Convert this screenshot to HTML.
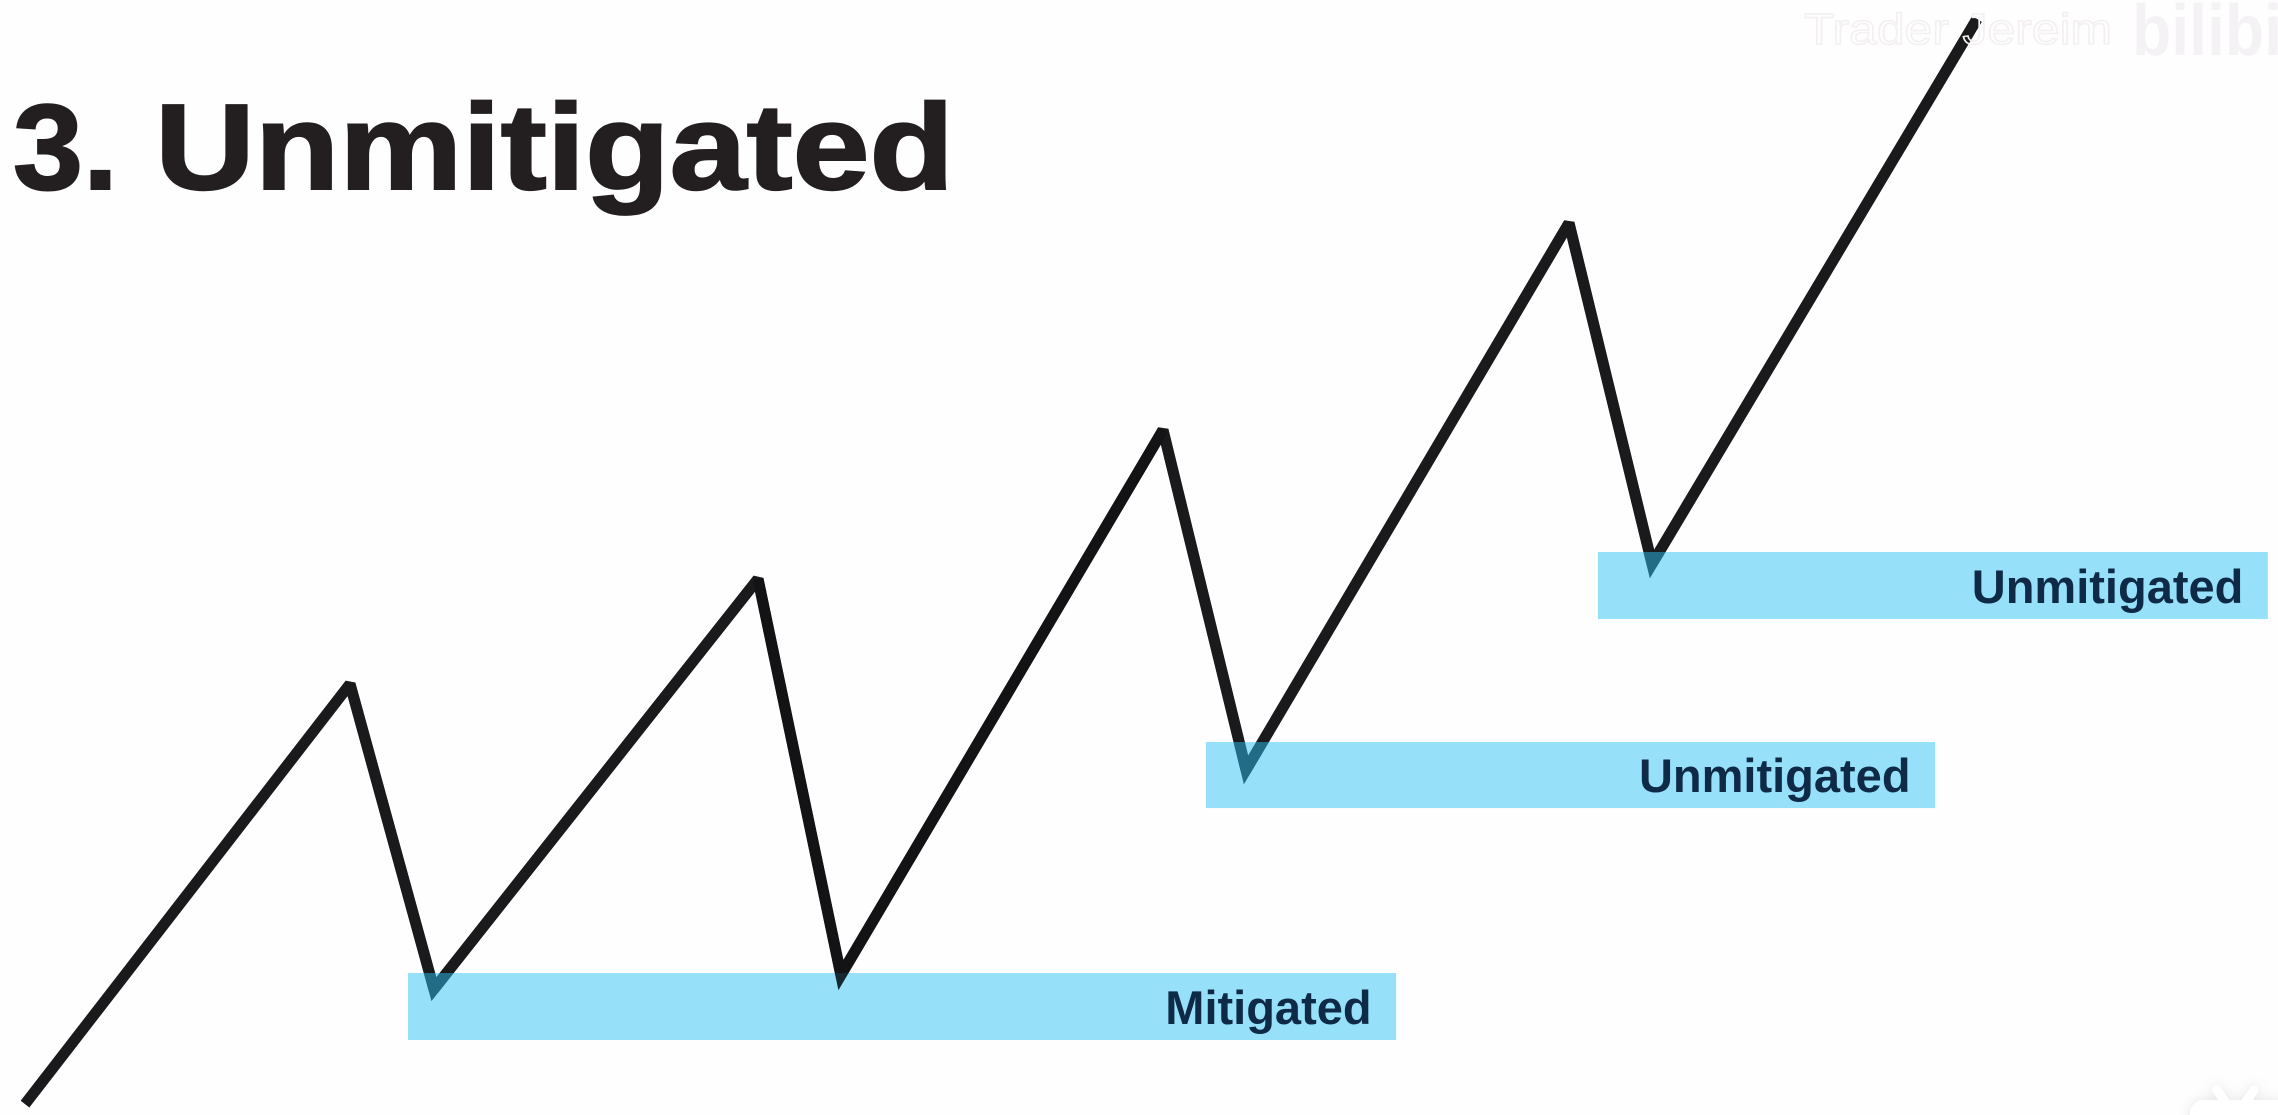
<!DOCTYPE html>
<html lang="en">
<head>
<meta charset="utf-8">
<title>3. Unmitigated</title>
<style>
  html, body { margin: 0; padding: 0; background: #fefefe; width: 2278px; height: 1115px; overflow: hidden; }
  svg { display: block; font-family: "Liberation Sans", Arial, sans-serif; }
</style>
</head>
<body>
<svg id="chart" xmlns="http://www.w3.org/2000/svg" width="2278" height="1115" viewBox="0 0 2278 1115">
  <defs>
    <filter id="soft-shadow" x="-30%" y="-30%" width="160%" height="160%">
      <feDropShadow dx="0" dy="0" stdDeviation="6" flood-color="#000" flood-opacity="0.1"/>
    </filter>
  </defs>
  <rect x="0" y="0" width="2278" height="1115" fill="#fefefe"/>
  <g font-size="122" font-weight="700" fill="#231f20" stroke="#231f20" stroke-width="2">
    <text x="13" y="189" textLength="105" lengthAdjust="spacingAndGlyphs">3.</text>
    <text x="155" y="189" textLength="799" lengthAdjust="spacingAndGlyphs">Unmitigated</text>
  </g>
  <g id="plot"></g>
  <text x="1804" y="44" font-size="44" fill="none" stroke="#f3eff3" stroke-width="1.5" textLength="308" lengthAdjust="spacingAndGlyphs">Trader Jereim</text>
  <text x="2132" y="55" font-size="72" font-weight="700" fill="#f5f2f5" textLength="150" lengthAdjust="spacingAndGlyphs">bilibi</text>
  <g filter="url(#soft-shadow)">
    <line x1="2217" y1="1090" x2="2228" y2="1106" stroke="#ffffff" stroke-width="9" stroke-linecap="round"/>
    <line x1="2254" y1="1090" x2="2243" y2="1106" stroke="#ffffff" stroke-width="9" stroke-linecap="round"/>
    <rect x="2190" y="1100" width="100" height="50" rx="14" fill="#ffffff"/>
  </g>
</svg>
<script>
// Chart data: time and price in data units
const swingTime = [0, 16.65, 20.95, 37.55, 41.8, 58.3, 62.55, 79.1, 83.35, 100];
const swingPrice = [-0.1, 38.65, 10.5, 48.34, 11.8, 62.08, 30.72, 81.18, 49.72, 100];
const zoneStart = [19.62, 60.5, 80.58];
const zoneEnd = [70.24, 97.85, 114.9];
const zoneHigh = [11.99, 33.3, 50.83];
const zoneLow = [5.81, 27.21, 44.65];
const zoneLabels = ["Mitigated", "Unmitigated", "Unmitigated"];
const mitigatingSwing = 4;

// Axis functions
function xScale(t) { return 25 + t * 19.52; }
function yScale(p) { return 1103 - p * 10.84; }

const NS = "http://www.w3.org/2000/svg";
const plot = document.getElementById("plot");
const lineWidth = "11";

function pathFor(indices) {
  return indices.map(function (i, n) {
    return (n ? "L" : "M") + xScale(swingTime[i]).toFixed(1) + " " + yScale(swingPrice[i]).toFixed(1);
  }).join(" ");
}

const allIndices = swingTime.map(function (_, i) { return i; });

// Main line with flat (bevelled) peaks
const priceLine = document.createElementNS(NS, "path");


priceLine.setAttribute("d", pathFor(allIndices));
priceLine.setAttribute("fill", "none");
priceLine.setAttribute("stroke", "#1a1a1c");
priceLine.setAttribute("stroke-width", lineWidth);
priceLine.setAttribute("stroke-linejoin", "bevel");
plot.appendChild(priceLine);

// Pointed troughs: one short three-point path through every even-index swing low
for (let i = 2; i < swingTime.length - 1; i += 2) {
  const trough = document.createElementNS(NS, "path");
  
  
  trough.setAttribute("d", pathFor([i - 1, i, i + 1]));
  trough.setAttribute("fill", "none");
  trough.setAttribute("stroke", "#1a1a1c");
  trough.setAttribute("stroke-width", lineWidth);
  trough.setAttribute("stroke-linejoin", "miter");
  trough.setAttribute("stroke-miterlimit", "12");
  plot.appendChild(trough);
}

// Translucent demand zones, drawn over the line so the line is tinted
zoneLabels.forEach(function (label, i) {
  const band = document.createElementNS(NS, "rect");
  
  
  band.setAttribute("x", xScale(zoneStart[i]));
  band.setAttribute("y", yScale(zoneHigh[i]));
  band.setAttribute("width", xScale(zoneEnd[i]) - xScale(zoneStart[i]));
  band.setAttribute("height", yScale(zoneLow[i]) - yScale(zoneHigh[i]));
  band.setAttribute("fill", "rgb(43,194,247)");
  band.setAttribute("fill-opacity", "0.49");
  plot.appendChild(band);
});

// The swing that mitigates the first zone sits on top of the band
const mitigating = document.createElementNS(NS, "path");


mitigating.setAttribute("d", pathFor([mitigatingSwing - 1, mitigatingSwing, mitigatingSwing + 1]));
mitigating.setAttribute("fill", "none");
mitigating.setAttribute("stroke", "#111114");
mitigating.setAttribute("stroke-opacity", "0.75");
mitigating.setAttribute("stroke-width", lineWidth);
mitigating.setAttribute("stroke-linejoin", "miter");
mitigating.setAttribute("stroke-miterlimit", "12");
plot.appendChild(mitigating);

// Zone labels, right aligned inside each band
zoneLabels.forEach(function (label, i) {
  const text = document.createElementNS(NS, "text");
  
  
  text.setAttribute("x", xScale(zoneEnd[i]) - 24.5);
  text.setAttribute("y", yScale(zoneLow[i]) - 16);
  text.setAttribute("text-anchor", "end");
  text.setAttribute("font-size", "47");
  text.setAttribute("font-weight", "700");
  text.setAttribute("fill", "#0e2a47");
  text.textContent = label;
  plot.appendChild(text);
});
</script>
</body>
</html>
